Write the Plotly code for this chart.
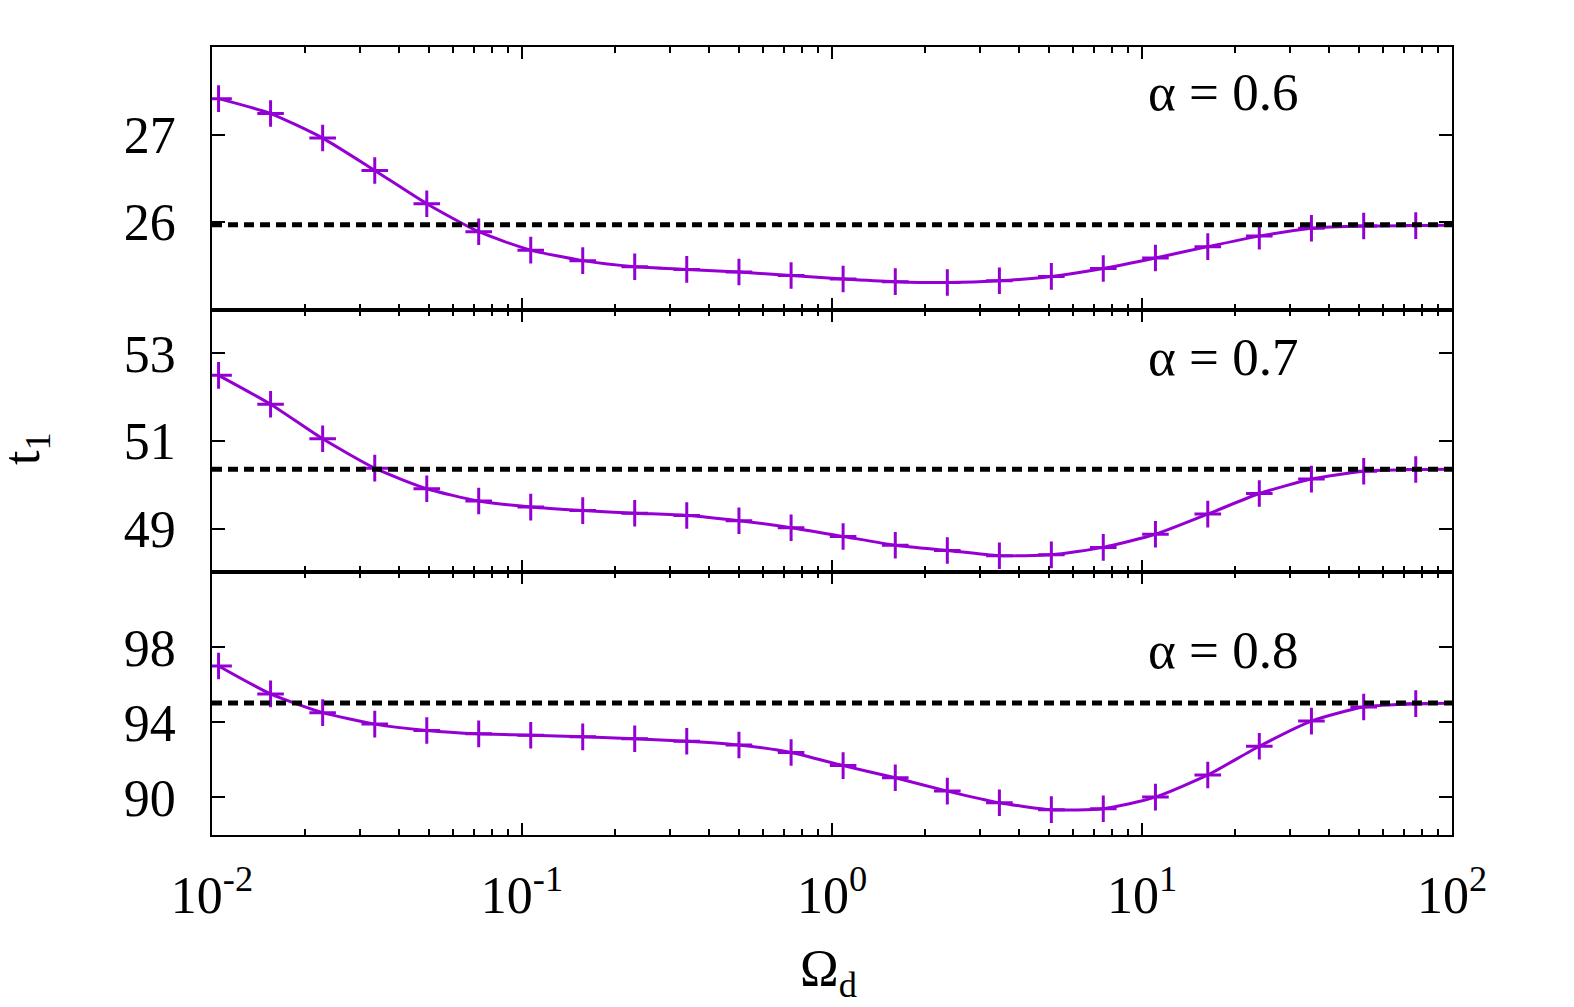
import plotly.graph_objects as go
from plotly.subplots import make_subplots

# ---------------- data ----------------
omega_d = [0.0105, 0.01545, 0.02275, 0.0335, 0.0493, 0.0725, 0.1067, 0.157,
           0.231, 0.340, 0.501, 0.738, 1.086, 1.600, 2.355, 3.467, 5.10,
           7.50, 11.05, 16.3, 23.9, 35.2, 51.9, 76.4, 100.0]

t1_a06 = [27.41, 27.24, 26.96, 26.59, 26.21, 25.89, 25.68, 25.56, 25.49,
          25.46, 25.43, 25.39, 25.35, 25.32, 25.31, 25.33, 25.38, 25.47,
          25.59, 25.72, 25.84, 25.93, 25.955, 25.96, 25.965]

t1_a07 = [52.50, 51.84, 51.05, 50.38, 49.91, 49.63, 49.49, 49.41, 49.35,
          49.30, 49.18, 49.02, 48.82, 48.62, 48.50, 48.38, 48.40, 48.57,
          48.87, 49.33, 49.80, 50.13, 50.31, 50.35, 50.355]

t1_a08 = [97.01, 95.52, 94.52, 93.91, 93.57, 93.39, 93.32, 93.23, 93.13,
          93.00, 92.80, 92.40, 91.70, 91.05, 90.34, 89.72, 89.35, 89.40,
          90.02, 91.20, 92.73, 94.07, 94.82, 95.00, 95.02]

# number of samples that carry a '+' marker (the last sample is line-only)
n_marked = 24

ref_levels = [25.97, 50.355, 95.03]
alpha_labels = ["α = 0.6", "α = 0.7", "α = 0.8"]
y_ranges = [[25.0, 28.0], [48.0, 54.0], [88.0, 102.0]]
y_ticks = [[26, 27], [49, 51, 53], [90, 94, 98]]

x_tick_vals = [0.01, 0.1, 1, 10, 100]
x_tick_text = ["10<sup>-2</sup>", "10<sup>-1</sup>", "10<sup>0</sup>",
               "10<sup>1</sup>", "10<sup>2</sup>"]
x_minor_vals = [m * 10.0 ** e for e in range(-2, 2) for m in range(2, 10)]

series = [t1_a06, t1_a07, t1_a08]
label_ypos = [0.827, 0.82, 0.706]

# ---------------- figure ----------------
FONT = "Liberation Serif, Times New Roman, serif"
PURPLE = "#9400D3"

fig = make_subplots(rows=3, cols=1, shared_xaxes=True, vertical_spacing=0)

for i, ys in enumerate(series):
    row = i + 1
    fig.add_trace(go.Scatter(
        x=omega_d, y=ys, mode="lines",
        line=dict(color=PURPLE, width=3, shape="spline", smoothing=0.6),
        showlegend=False, hoverinfo="skip"), row=row, col=1)
    fig.add_trace(go.Scatter(
        x=omega_d[:n_marked], y=ys[:n_marked], mode="markers",
        marker=dict(symbol="cross-thin", size=19, color=PURPLE,
                    line=dict(color=PURPLE, width=3)),
        showlegend=False), row=row, col=1)
    fig.add_hline(y=ref_levels[i], line=dict(color="black", width=5, dash="10px,6px"),
                  row=row, col=1)
    fig.update_yaxes(range=y_ranges[i], tickvals=y_ticks[i], row=row, col=1)
    xname = "x" if row == 1 else f"x{row}"
    yname = "y" if row == 1 else f"y{row}"
    fig.add_annotation(text=alpha_labels[i], xref=f"{xname} domain",
                       yref=f"{yname} domain", x=0.815, y=label_ypos[i],
                       showarrow=False, xanchor="center", yanchor="middle",
                       font=dict(family=FONT, size=53, color="black"))

fig.update_xaxes(type="log", range=[-2, 2], tickvals=x_tick_vals,
                 ticktext=x_tick_text, ticks="inside", ticklen=12, tickwidth=1.5,
                 tickcolor="black", showline=True, linewidth=1.8, linecolor="black",
                 mirror="allticks", showgrid=False, zeroline=False,
                 minor=dict(tickvals=x_minor_vals, ticks="inside", ticklen=6,
                            tickwidth=1.5, tickcolor="black", showgrid=False),
                 tickfont=dict(family=FONT, size=52, color="black"),
                 ticklabelstandoff=14)

fig.update_yaxes(ticks="inside", ticklen=13, tickwidth=1.5, tickcolor="black",
                 showline=True, linewidth=1.8, linecolor="black",
                 mirror="allticks", showgrid=False, zeroline=False,
                 tickfont=dict(family=FONT, size=52, color="black"),
                 ticklabelstandoff=24)

# axis titles
fig.add_annotation(text="Ω<sub>d</sub>", xref="paper", yref="paper",
                   x=0.497, y=-0.175, showarrow=False, xanchor="center",
                   yanchor="middle", font=dict(family=FONT, size=52, color="black"))
fig.add_annotation(text="t<sub>1</sub>", xref="paper", yref="paper",
                   x=-0.15, y=0.49, showarrow=False, textangle=-90,
                   xanchor="center", yanchor="middle",
                   font=dict(family=FONT, size=52, color="black"))

fig.update_layout(width=1574, height=1007,
                  margin=dict(l=212, r=122, t=47, b=172),
                  paper_bgcolor="white", plot_bgcolor="white")

fig.write_html("out.html")
